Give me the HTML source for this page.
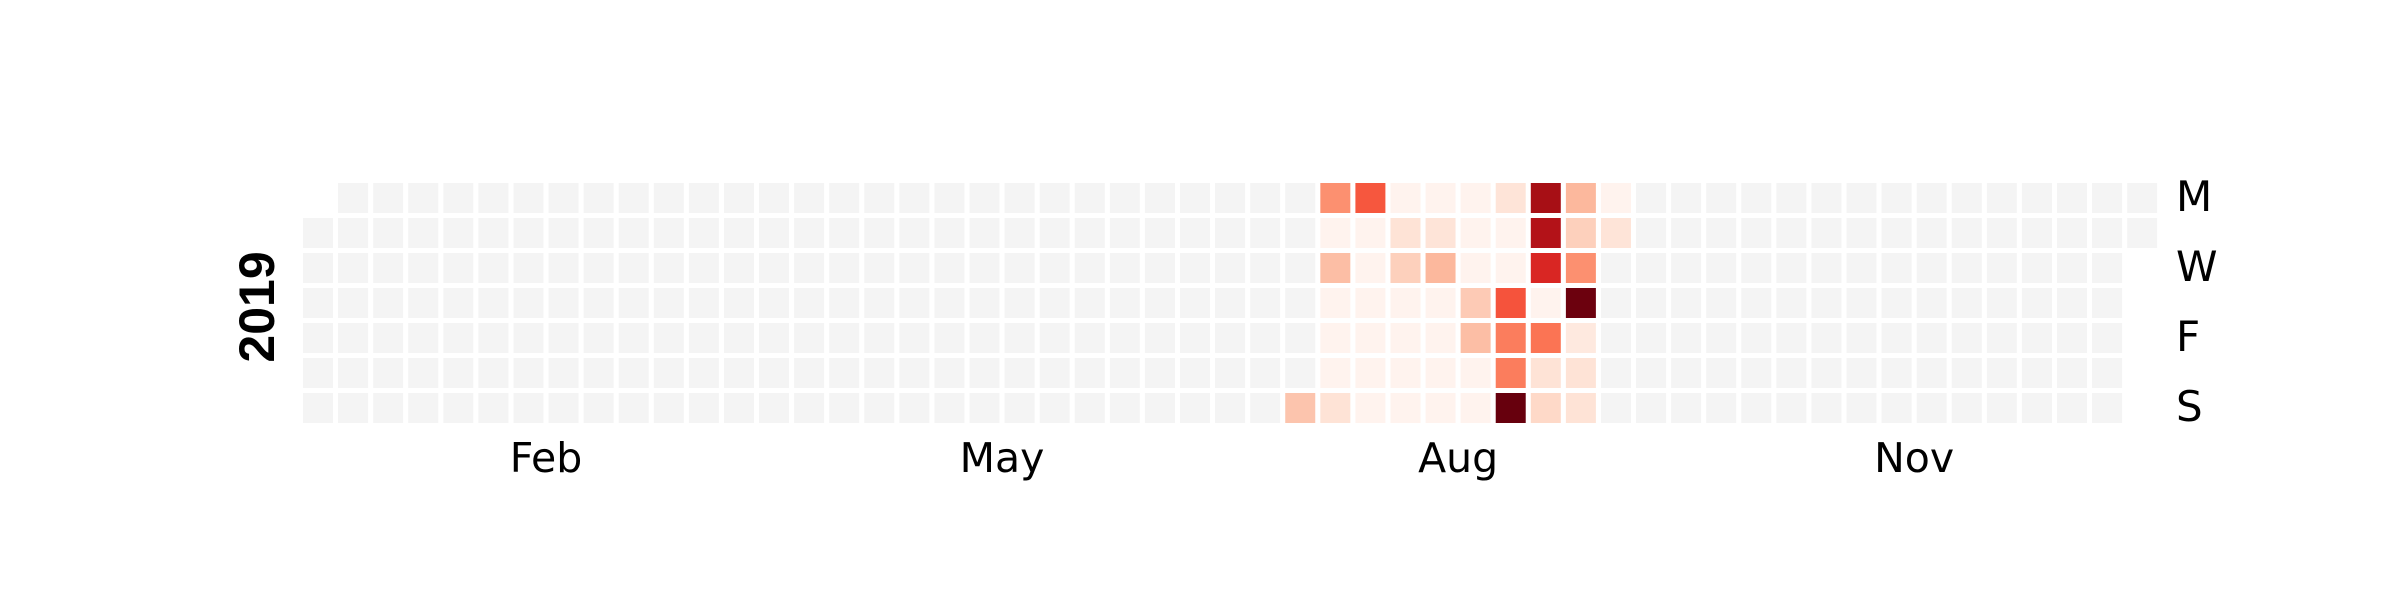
<!DOCTYPE html>
<html><head><meta charset="utf-8"><style>
html,body{margin:0;padding:0;background:#fff;width:2400px;height:600px;overflow:hidden}
svg text{font-family:"DejaVu Sans","Liberation Sans",sans-serif}
</style></head><body>
<svg id="chart" width="2400" height="600" xmlns="http://www.w3.org/2000/svg"></svg>
<script>
// data: values by week column (28..37) and weekday (Mon..Sun); null = no data
const activeWeeks = [28, 29, 30, 31, 32, 33, 34, 35, 36, 37];
const weekValues = [
  [null, null, null, null, null, null, 0.22],
  [0.38, 0.01, 0.24, 0.01, 0.01, 0.01, 0.11],
  [0.55, 0.01, 0.01, 0.01, 0.01, 0.01, 0.01],
  [0.01, 0.11, 0.18, 0.01, 0.01, 0.01, 0.01],
  [0.01, 0.10, 0.26, 0.01, 0.01, 0.01, 0.01],
  [0.01, 0.01, 0.01, 0.20, 0.24, 0.01, 0.01],
  [0.10, 0.01, 0.01, 0.56, 0.44, 0.44, 1.00],
  [0.87, 0.83, 0.70, 0.01, 0.47, 0.11, 0.15],
  [0.26, 0.18, 0.38, 0.99, 0.07, 0.11, 0.11],
  [0.01, 0.10, null, null, null, null, null]
];
const monthLabels = ["Feb", "May", "Aug", "Nov"];
const monthCols = [6.5, 19.5, 32.5, 45.5];
const dayLabels = ["M", "W", "F", "S"];
const dayRows = [0, 2, 4, 6];
const yearLabel = "2019";

const svg = document.getElementById('chart');
const NS = 'http://www.w3.org/2000/svg';
const X0 = 303, Y0 = 183, PX = 35.08, PY = 35, CS = 30;
const xCol = c => X0 + c * PX;
const yRow = r => Y0 + r * PY;
const stops = ["#fff5f0","#fee0d2","#fcbba1","#fc9272","#fb6a4a","#ef3b2c","#cb181d","#a50f15","#67000d"];
function hex(h){return [1,3,5].map(i=>parseInt(h.substr(i,2),16));}
function reds(v){
  v = Math.max(0, Math.min(1, v));
  const p = v * 8, i = Math.min(7, Math.floor(p)), t = p - i;
  const a = hex(stops[i]), b = hex(stops[i+1]);
  return 'rgb(' + a.map((x,k)=>Math.round(x + (b[k]-x)*t)).join(',') + ')';
}
function valueAt(col, row){
  const i = activeWeeks.indexOf(col);
  if (i < 0) return null;
  return weekValues[i][row];
}
for (let c = 0; c <= 52; c++) {
  for (let r = 0; r < 7; r++) {
    if (c === 0 && r === 0) continue;
    if (c === 52 && r > 1) continue;
    const v = valueAt(c, r);
    const rect = document.createElementNS(NS, 'rect');
    rect.setAttribute('x', xCol(c));
    rect.setAttribute('y', yRow(r));
    rect.setAttribute('width', CS);
    rect.setAttribute('height', CS);
    rect.setAttribute('fill', v === null || v === undefined ? '#f4f4f4' : reds(v));
    
    
    svg.appendChild(rect);
  }
}
monthLabels.forEach((m, i) => {
  const t = document.createElementNS(NS, 'text');
  t.setAttribute('x', xCol(monthCols[i]) + CS / 2);
  t.setAttribute('y', 472);
  t.setAttribute('text-anchor', 'middle');
  t.setAttribute('font-size', '41');
  t.textContent = m;
  
  
  svg.appendChild(t);
});
dayLabels.forEach((d, i) => {
  const t = document.createElementNS(NS, 'text');
  t.setAttribute('x', 2176);
  t.setAttribute('y', yRow(dayRows[i]) + CS / 2 + 13);
  t.setAttribute('font-size', '42');
  t.textContent = d;
  
  
  svg.appendChild(t);
});
const yt = document.createElementNS(NS, 'text');
yt.setAttribute('transform', 'translate(274,307) rotate(-90)');
yt.setAttribute('text-anchor', 'middle');
yt.setAttribute('font-size', '50');
yt.setAttribute('font-weight', 'bold');
yt.setAttribute('style', 'font-family:"Liberation Sans",sans-serif');
yt.textContent = yearLabel;


svg.appendChild(yt);
</script>
</body></html>
